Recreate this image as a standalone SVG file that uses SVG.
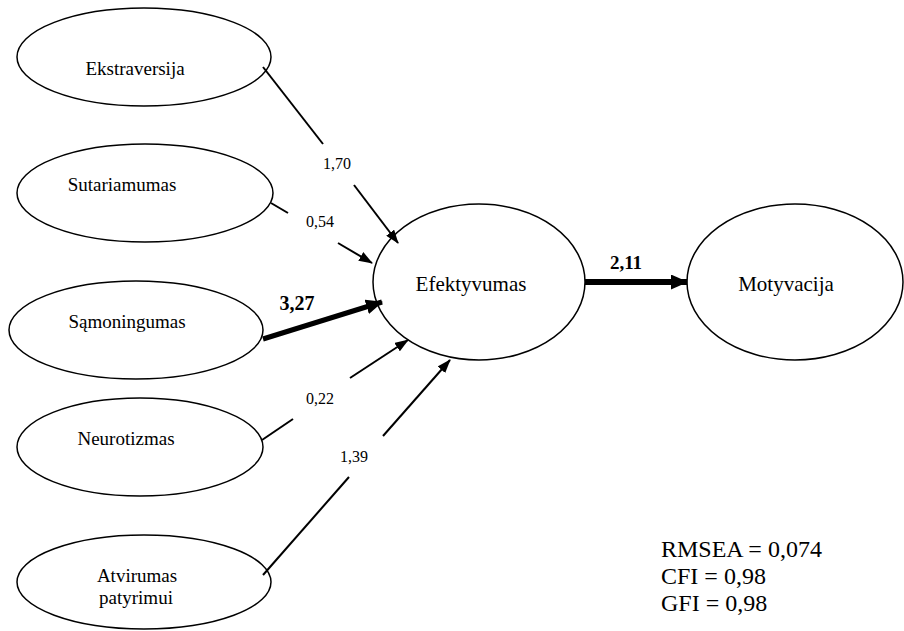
<svg xmlns="http://www.w3.org/2000/svg" width="904" height="631" viewBox="0 0 904 631" font-family="'Liberation Serif', 'Times New Roman', serif">
<style>
.node ellipse{fill:#fff;stroke:#000;stroke-width:1.5}
text{font-family:"Liberation Serif","Times New Roman",serif;fill:#000}
.nl{font-family:"Liberation Serif",serif;font-size:19px;text-anchor:middle}
.cl{font-family:"Liberation Serif",serif;font-size:21px;text-anchor:middle}
.el{font-family:"Liberation Serif",serif;font-size:16px;text-anchor:middle}
.eb{font-family:"Liberation Serif",serif;font-weight:bold;text-anchor:middle}
.thin{fill:none;stroke:#000;stroke-width:2}
.thick{fill:none;stroke:#000;stroke-width:5}
.stat{font-family:"Liberation Serif",serif;font-size:24px}
</style>
<defs>
<marker id="ah" viewBox="0 0 14 10" refX="13" refY="5" markerWidth="14" markerHeight="10" markerUnits="userSpaceOnUse" orient="auto"><path d="M0,0 L14,5 L0,10 z" fill="#000"/></marker>
<marker id="ahb" viewBox="0 0 17 15" refX="16" refY="7.5" markerWidth="17" markerHeight="15" markerUnits="userSpaceOnUse" orient="auto"><path d="M0,0 L17,7.5 L0,15 z" fill="#000"/></marker>
</defs>
<rect width="904" height="631" fill="#fff"/>
<g id="n-ekstraversija" class="node"><ellipse cx="144" cy="57" rx="127" ry="49"/><text class="nl" x="135" y="75">Ekstraversija</text></g>
<g id="n-sutariamumas" class="node"><ellipse cx="145" cy="193" rx="128" ry="49"/><text class="nl" x="122" y="191">Sutariamumas</text></g>
<g id="n-samoningumas" class="node"><ellipse cx="136" cy="330" rx="127" ry="49"/><text class="nl" x="127" y="328">Sąmoningumas</text></g>
<g id="n-neurotizmas" class="node"><ellipse cx="140" cy="447" rx="123" ry="49"/><text class="nl" x="126" y="445">Neurotizmas</text></g>
<g id="n-atvirumas" class="node"><ellipse cx="144" cy="582" rx="127" ry="47"/><text class="nl" x="137" y="582">Atvirumas</text><text class="nl" x="136" y="604">patyrimui</text></g>
<g id="n-efektyvumas" class="node"><ellipse cx="479" cy="282" rx="106" ry="78"/><text class="cl" x="471" y="291">Efektyvumas</text></g>
<g id="n-motyvacija" class="node"><ellipse cx="795" cy="282" rx="108" ry="78"/><text class="cl" x="786" y="291">Motyvacija</text></g>
<g id="connectors">
<path class="thin" d="M263,67 L323,144"/>
<path class="thin" d="M354,185 L398,243" marker-end="url(#ah)"/>
<path class="thin" d="M271,203 L288,213"/>
<path class="thin" d="M338,243 L372,263" marker-end="url(#ah)"/>
<path class="thick" d="M263,339 L382,302" marker-end="url(#ahb)"/>
<path class="thin" d="M262,440 L293,419"/>
<path class="thin" d="M350,378 L408,340" marker-end="url(#ah)"/>
<path class="thin" d="M263,575 L349,477"/>
<path class="thin" d="M383,436 L450,360" marker-end="url(#ah)"/>
<path class="thick" d="M585,282 L687,282" style="stroke-width:6" marker-end="url(#ahb)"/>
<text class="el" x="337" y="169">1,70</text>
<text class="el" x="320" y="227">0,54</text>
<text class="eb" x="297" y="310" font-size="20">3,27</text>
<text class="el" x="320" y="404">0,22</text>
<text class="el" x="354" y="462">1,39</text>
<text class="eb" x="626" y="269" font-size="19">2,11</text>
</g>
<g id="fit">
<text class="stat" x="661" y="557">RMSEA = 0,074</text>
<text class="stat" x="661" y="584">CFI = 0,98</text>
<text class="stat" x="661" y="611">GFI = 0,98</text>
</g>
</svg>
